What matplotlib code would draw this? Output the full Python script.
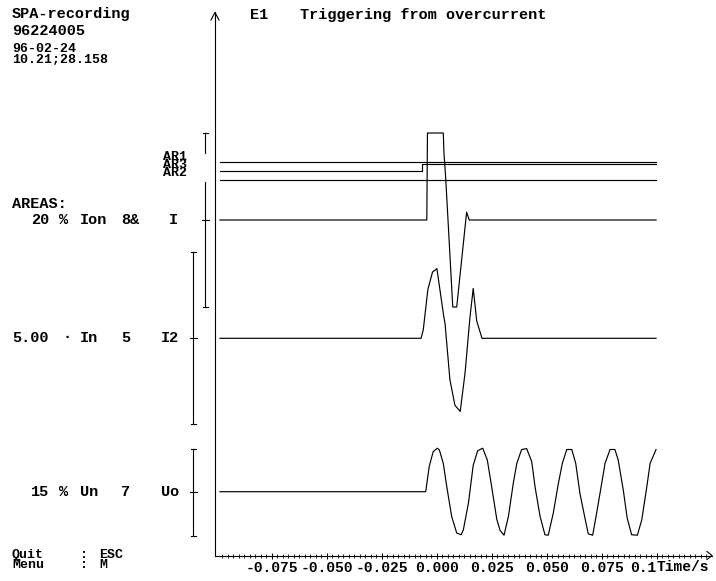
"""
SPA-recording disturbance screen (E1, triggering from overcurrent).
Three analog channels (I, I2, Uo) plus the AR1/AR2/AR3 binary traces,
drawn on one shared time axis in ms.
"""
import numpy as np
import matplotlib.pyplot as plt

W, H = 716, 581
FONT = "Liberation Mono"
FS = 11
FS_TIGHT = 9.5  # rows that sit only 8-10 px apart on the original screen

# time axis: 0.000 s sits at x=436.7 px, 2.2 px per ms
T0_PX = 436.7
PX_PER_MS = 2.2

# ---- channel data: time [ms], value as fraction of channel full scale ----
i_t = [-98.5, -4.5, -4.2, 3.0, 3.3, 4.1, 7.3, 9.1, 13.6, 14.8, 99.7]
i_v = [0.0, 0.0, 1.0, 1.0, 0.77, 0.48, -1.0, -1.0, 0.09, 0.0, 0.0]

i2_t = [-98.5, -7.1, -6.1, -4.0, -1.9, 0.1, 3.0, 3.8, 6.0, 8.3, 10.7,
        12.9, 15.1, 16.6, 18.2, 20.6, 99.7]
i2_v = [0.0, 0.0, 0.10, 0.57, 0.77, 0.81, 0.29, 0.17, -0.48, -0.78, -0.85,
        -0.40, 0.24, 0.58, 0.20, 0.0, 0.0]

uo_t = [-98.5, -5.0, -3.4, -1.6, 0.3, 1.2, 3.0, 4.6, 6.8, 9.1, 11.1,
        12.1, 14.4, 16.6, 18.6, 20.9, 23.0, 25.0, 27.3, 28.8, 30.6,
        32.6, 34.8, 36.4, 38.6, 40.9, 43.2, 44.7, 47.0, 49.2, 50.7,
        53.0, 55.3, 57.1, 59.1, 61.4, 63.2, 65.1, 67.4, 68.9, 70.9,
        72.7, 75.0, 76.5, 78.8, 81.0, 82.5, 84.8, 86.6, 88.6, 91.2,
        93.2, 95.5, 97.0, 99.7]
uo_v = [0.0, 0.0, 0.58, 0.92, 1.0, 0.96, 0.65, 0.11, -0.57, -0.95, -0.99,
        -0.88, -0.27, 0.61, 0.94, 1.0, 0.73, 0.11, -0.63, -0.89, -1.0,
        -0.57, 0.19, 0.65, 0.97, 0.99, 0.69, 0.11, -0.57, -0.99, -1.0,
        -0.49, 0.19, 0.65, 0.97, 0.97, 0.65, -0.04, -0.61, -0.97, -1.0,
        -0.49, 0.19, 0.65, 0.97, 0.97, 0.73, 0.04, -0.61, -0.99, -1.0,
        -0.65, 0.11, 0.65, 0.97]

# binary traces (0/1 state), step-post
ar_t = [-98.5, -6.8, 99.7]
ar1_s = [0, 0, 0]
ar3_s = [0, 1, 1]
ar2_s = [0, 0, 0]

# x axis ticks [ms]
major_ticks = [-75, -50, -25, 0, 25, 50, 75, 100]
major_labels = ["-0.075", "-0.050", "-0.025", "0.000", "0.025", "0.050", "0.075", "0.1"]

# ---- layout (pixel rows) ----
CH = {  # name: (center row, half height)
    "I": (220.0, 87.0),
    "I2": (338.3, 86.0),
    "Uo": (491.7, 43.5),
}
AR_ROWS = {"AR1": 161.7, "AR3": 171.0, "AR2": 180.3}
AR_STEP = 6.7
X_AXIS_ROW = 555.5
Y_AXIS_COL = 215.0
X_AXIS_END = 712.0


def px_to_ms(px):
    return (px - T0_PX) / PX_PER_MS


fig = plt.figure(figsize=(W / 100, H / 100), dpi=100)
fig.patch.set_facecolor("white")


def band_axes(top, bottom, ylim):
    ax = fig.add_axes([0, 1 - bottom / H, 1, (bottom - top) / H])
    ax.set_xlim(px_to_ms(0), px_to_ms(W))
    ax.set_ylim(*ylim)
    ax.axis("off")
    ax.patch.set_alpha(0)
    return ax


# frame with real time axis
frame = fig.add_axes([Y_AXIS_COL / W, 1 - X_AXIS_ROW / H,
                      (X_AXIS_END - Y_AXIS_COL) / W, (X_AXIS_ROW - 12) / H])
frame.set_xlim(px_to_ms(Y_AXIS_COL), px_to_ms(X_AXIS_END))
frame.patch.set_alpha(0)
for side in ("top", "right"):
    frame.spines[side].set_visible(False)
for side in ("left", "bottom"):
    frame.spines[side].set_linewidth(0.8)
frame.set_yticks([])
frame.set_xticks(major_ticks)
frame.set_xticks(np.arange(-97.5, 123, 2.5), minor=True)
frame.set_xticklabels(major_labels, fontfamily=FONT, fontweight="bold", fontsize=10.5)
frame.get_xticklabels()[-1].set_ha("right")
frame.tick_params(axis="x", which="major", direction="inout", length=4.5, width=0.7, pad=1.5)
frame.tick_params(axis="x", which="minor", direction="inout", length=2.2, width=0.6)

# analog channels
lw = 0.85
for name, t, v in (("I", i_t, i_v), ("I2", i2_t, i2_v), ("Uo", uo_t, uo_v)):
    c, h = CH[name]
    ax = band_axes(c - h, c + h, (-1, 1))
    ax.plot(t, v, color="black", lw=lw, clip_on=False)

# AR binary traces
for name, s in (("AR1", ar1_s), ("AR3", ar3_s), ("AR2", ar2_s)):
    row = AR_ROWS[name]
    ax = band_axes(row - AR_STEP, row, (0, 1))
    ax.plot(ar_t, s, color="black", lw=lw, drawstyle="steps-post", clip_on=False)

# overlay in pixel coordinates for texts and decorations
ov = fig.add_axes([0, 0, 1, 1])
ov.set_xlim(0, W)
ov.set_ylim(H, 0)
ov.axis("off")
ov.patch.set_alpha(0)

# arrowheads
ov.plot([Y_AXIS_COL - 4, Y_AXIS_COL, Y_AXIS_COL + 4], [20, 12.5, 20], color="black", lw=0.8)
ov.plot([X_AXIS_END - 5, X_AXIS_END, X_AXIS_END - 5],
        [X_AXIS_ROW - 4, X_AXIS_ROW, X_AXIS_ROW + 4], color="black", lw=0.8)

# scale bars: (column, top, bottom, mid tick, drawn segments)
bars = [
    (205, 133, 307, 220, [(133, 153), (182, 307)]),
    (193, 252, 424, 338.3, [(252, 424)]),
    (193, 449, 536, 491.7, [(449, 536)]),
]
for col, top, bot, mid, segs in bars:
    for a, b in segs:
        ov.plot([col, col], [a, b], color="black", lw=0.8)
    for r in (top, bot):
        ov.plot([col - 2.5, col + 2.5], [r, r], color="black", lw=0.8)
    ov.plot([col - 3.5, col + 3.5], [mid, mid], color="black", lw=0.8)

texts = [
    ("SPA-recording", 12, 14, FS), ("96224005", 12, 31, FS),
    ("96-02-24", 12, 49.5, FS_TIGHT), ("10.21;28.158", 12, 59.5, FS_TIGHT),
    ("E1", 250, 15, FS), ("Triggering from overcurrent", 300, 15, FS),
    ("AR1", 163, 156.5, FS_TIGHT), ("AR3", 163, 164.8, FS_TIGHT), ("AR2", 163, 173.2, FS_TIGHT),
    ("AREAS:", 12, 203.5, FS),
    ("20", 31, 220, FS), ("%", 59, 220, FS), ("Ion", 80, 220, FS), ("8&", 121, 220, FS), ("I", 169, 220, FS),
    ("5.00", 12, 337.5, FS), ("·", 62, 337.5, FS), ("In", 80, 337.5, FS), ("5", 121.5, 337.5, FS),
    ("I2", 160.5, 337.5, FS),
    ("15", 31, 491.7, FS), ("%", 59, 491.7, FS), ("Un", 80, 491.7, FS), ("7", 121.5, 491.7, FS),
    ("Uo", 161, 491.7, FS),
    ("Quit", 12, 555, FS_TIGHT), (":", 80, 555, FS_TIGHT), ("ESC", 99, 555, FS_TIGHT),
    ("Menu", 12, 565, FS_TIGHT), (":", 80, 565, FS_TIGHT), ("M", 99, 565, FS_TIGHT),
]
for s, x, y, fs in texts:
    ov.text(x, y, s, ha="left", va="center", fontfamily=FONT,
            fontweight="bold", fontsize=fs, color="black")

# axis unit label right after the last tick
ov.text(T0_PX + 100 * PX_PER_MS, 567, "Time/s", ha="left", va="center",
        fontfamily=FONT, fontweight="bold", fontsize=10.5, color="black")

fig.savefig("out.png", dpi=100, facecolor="white")
